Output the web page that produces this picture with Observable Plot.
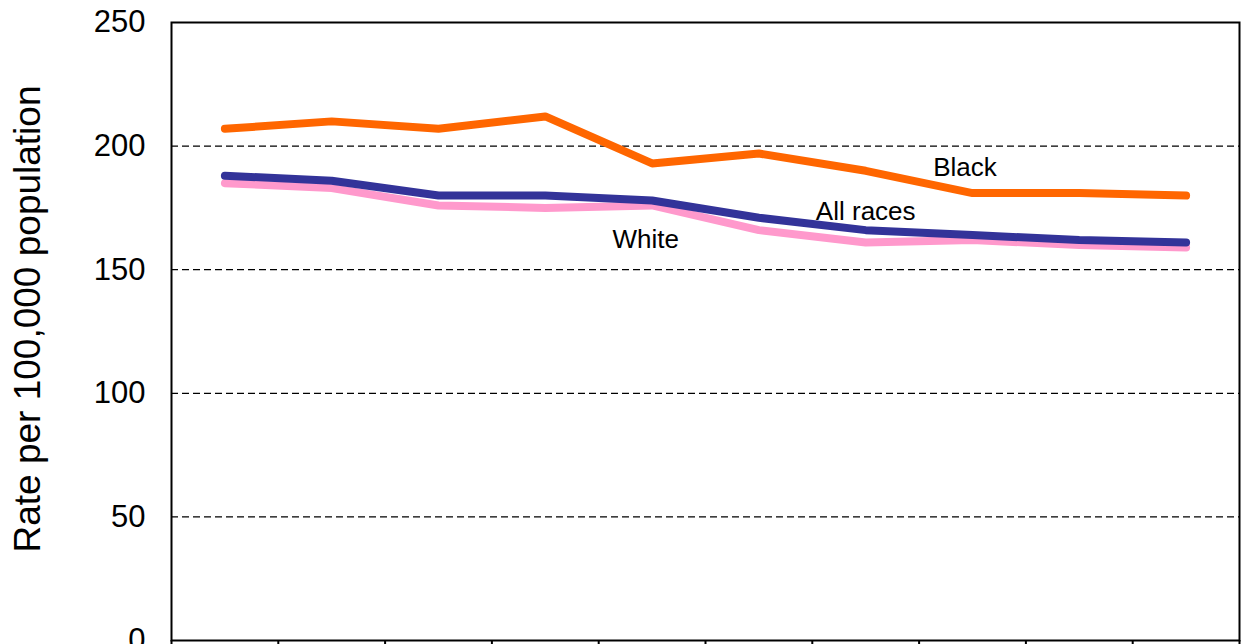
<!DOCTYPE html>
<html>
<head>
<meta charset="utf-8">
<script src="https://cdn.jsdelivr.net/npm/d3@7"></script>
<script src="https://cdn.jsdelivr.net/npm/@observablehq/plot@0.6"></script>
<style>
  html, body { margin: 0; padding: 0; background: #ffffff; overflow: hidden; }
  #chart svg { display: block; }
</style>
</head>
<body>
<div id="chart"></div>
<script>
// Categories (ten yearly points; year labels fall below the visible area)
const years = ["1990", "1991", "1992", "1993", "1994", "1995", "1996", "1997", "1998", "1999"];

// Series values (rate per 100,000 population)
const black    = [207, 210, 207, 212, 193, 197, 190, 181, 181, 180];
const allRaces = [188, 186, 180, 180, 178, 171, 166, 164, 162, 161];
const white    = [185, 183, 176, 175, 176, 166, 161, 162, 160, 159];

// Series names and colours
const seriesNames  = ["White", "All races", "Black"];
const seriesColors = ["#FF99CC", "#333399", "#FF6600"];

// Y ticks and gridlines
const yTicks    = [0, 50, 100, 150, 200, 250];
const gridTicks = [50, 100, 150, 200];
const yLabel    = "Rate per 100,000 population";

// In-chart series labels (position in data units: category index, value)
const labelNames  = ["Black", "All races", "White"];
const labelIndex  = [7.43, 6.50, 4.44];
const labelValues = [191.3, 173.5, 162.2];

// Build table
const seriesValues = { "White": white, "All races": allRaces, "Black": black };
const rows = [];
for (const s of seriesNames) {
  seriesValues[s].forEach((v, i) => rows.push({ series: s, year: years[i], i: i + 0.5, v }));
}
const labels = labelNames.map((t, k) => ({ text: t, i: labelIndex[k], v: labelValues[k] }));
const boundaries = d3.range(0, years.length + 1);

const chart = Plot.plot({
  width: 1241,
  height: 700,
  marginTop: 22,
  marginLeft: 171,
  marginRight: 2,
  marginBottom: 60,
  style: { fontFamily: "'Liberation Sans', Arial, sans-serif", background: "#ffffff", color: "#000000" },
  x: { domain: [0, years.length] },
  y: { domain: [0, 250] },
  color: { domain: seriesNames, range: seriesColors },
  marks: [
    Plot.gridY(gridTicks, { stroke: "#000000", strokeOpacity: 1, strokeWidth: 1.2, strokeDasharray: "7,4" }),
    Plot.line(rows, {
      x: "i", y: "v", z: "series", stroke: "series",
      strokeWidth: 8, strokeLinecap: "round", strokeLinejoin: "round"
    }),
    Plot.text(labels, { x: "i", y: "v", text: "text", fontSize: 26, fill: "#000000" }),
    Plot.frame({ stroke: "#000000", strokeWidth: 2 }),
    Plot.axisY(yTicks, { tickSize: 0, tickPadding: 26, fontSize: 31, label: null }),
    Plot.text([yLabel], {
      frameAnchor: "left", textAnchor: "middle", rotate: -90, fontSize: 37, dx: -143, dy: -12.5, fill: "#000000"
    }),
    Plot.axisX(boundaries, { tickSize: 10, strokeWidth: 2, tickFormat: () => "", label: null })
  ]
});
document.getElementById("chart").append(chart);
</script>
</body>
</html>
